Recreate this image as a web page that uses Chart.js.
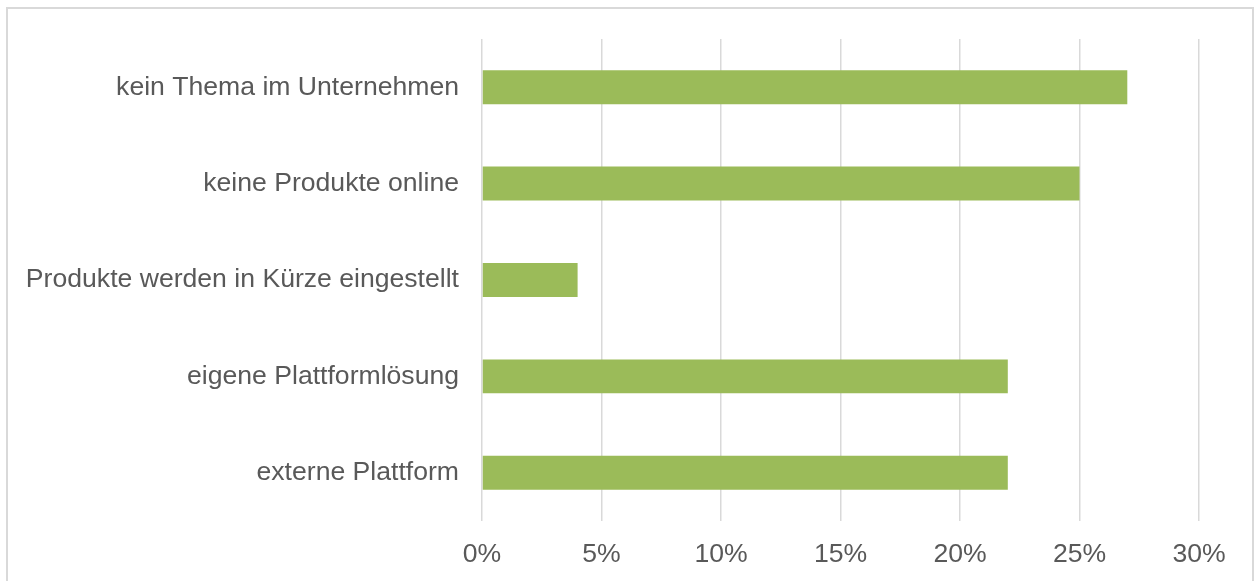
<!DOCTYPE html>
<html>
<head>
<meta charset="utf-8">
<script src="https://cdn.jsdelivr.net/npm/chart.js@4"></script>
<style>
  html, body { margin: 0; padding: 0; background: #fff; overflow: hidden; }
  #frame {
    position: absolute; left: 6px; top: 7px; width: 1248px; height: 620px;
    border: 2px solid #d9d9d9; box-sizing: border-box;
  }
  #wrap { position: absolute; left: 0; top: 0; width: 1255px; height: 581px; }
</style>
</head>
<body>
<div id="frame"></div>
<div id="wrap"><canvas id="chart"></canvas></div>
<script>
const categories = [
  'kein Thema im Unternehmen',
  'keine Produkte online',
  'Produkte werden in Kürze eingestellt',
  'eigene Plattformlösung',
  'externe Plattform',
];
const shares = [27, 25, 4, 22, 22];
const tickMax = 30;
const tickStep = 5;

const textColor = '#595959';
const barColor = '#9bbb59';
const gridColor = '#d9d9d9';

Chart.defaults.font.family = '"Liberation Sans", Arial, sans-serif';
Chart.defaults.font.size = 26.6;
Chart.defaults.color = textColor;

const canvas = document.getElementById('chart');

const data = {
  labels: categories,
  datasets: [{
    data: shares,
    backgroundColor: barColor,
    borderWidth: 0,
    categoryPercentage: 1,
    barPercentage: 0.352,
  }],
};

const options = {
  indexAxis: 'y',
  responsive: true,
  maintainAspectRatio: false,
  animation: false,
  layout: {
    padding: { top: 38, right: 56, bottom: 12, left: 0 },
  },
  plugins: {
    legend: { display: false },
    tooltip: { enabled: false },
  },
  scales: {
    x: {
      min: 0,
      max: tickMax,
      ticks: {
        stepSize: tickStep,
        padding: 18,
        callback: (v) => v + '%',
      },
      grid: {
        color: gridColor,
        lineWidth: 1.5,
        drawTicks: false,
      },
      border: { display: false },
      afterFit: (scale) => { scale.height = 48; },
    },
    y: {
      ticks: { padding: 23 },
      grid: { display: false, drawTicks: false },
      border: { display: false },
      afterFit: (scale) => { scale.width = 482; },
    },
  },
};

new Chart(canvas, { type: 'bar', data, options });
</script>
</body>
</html>
